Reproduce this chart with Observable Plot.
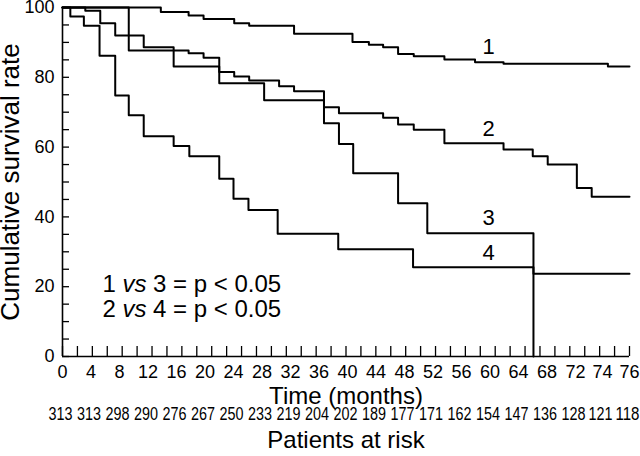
<!DOCTYPE html>
<html>
<head>
<meta charset="utf-8">
<script src="https://cdn.jsdelivr.net/npm/d3@7"></script>
<script src="https://cdn.jsdelivr.net/npm/@observablehq/plot@0.6"></script>
<style>
  html, body { margin: 0; padding: 0; background: #fff; }
  #chart svg { display: block; }
</style>
</head>
<body>
<div id="chart"></div>
<script>
// ---- data ----
const curve1Time = [0, 13.8, 17.7, 19.8, 24.1, 26.2, 32.5, 40.7, 43.0, 45.0, 47.1, 49.3, 53.6, 57.9, 61.9, 74.4, 76];
const curve1Surv = [100, 98.7, 97.7, 96.7, 95.5, 94.8, 92.5, 90.1, 89.3, 88.6, 86.7, 86.0, 85.1, 84.3, 83.9, 83.1, 83.1];

const curve2Time = [0, 9.3, 17.7, 19.8, 22.0, 24.1, 26.2, 30.4, 32.5, 36.7, 38.8, 45.0, 47.1, 49.3, 53.6, 61.9, 66.0, 68.1, 72.1, 73.2, 76];
const curve2Surv = [100, 87.7, 86.9, 85.6, 81.5, 80.2, 79.1, 77.4, 76.0, 71.4, 69.7, 68.4, 66.5, 65.0, 61.1, 59.3, 57.4, 55.0, 48.3, 45.8, 45.8];

const curve3Time = [0, 3.2, 5.3, 7.4, 11.4, 15.6, 22.0, 28.3, 36.7, 38.8, 40.8, 47.1, 51.2, 66.1];
const curve3Surv = [100, 99.1, 95.5, 92.0, 88.6, 83.1, 78.3, 73.4, 66.8, 60.9, 52.5, 43.9, 35.3, 0];

const curve4Time = [0, 1.1, 3.0, 5.2, 7.4, 9.3, 11.4, 15.6, 17.8, 22.0, 24.0, 26.1, 30.2, 38.7, 49.2, 66.1, 76];
const curve4Surv = [100, 97.4, 94.8, 86.2, 74.8, 69.1, 63.1, 60.3, 57.4, 50.9, 45.2, 42.0, 35.2, 30.7, 25.6, 23.7, 23.7];

const curveNames = ["1", "2", "3", "4"];
const xTickValues = [0, 4, 8, 12, 16, 20, 24, 28, 32, 36, 40, 44, 48, 52, 56, 60, 64, 68, 72, 74, 76];
const atRisk = [313, 313, 298, 290, 276, 267, 250, 233, 219, 204, 202, 189, 177, 171, 162, 154, 147, 136, 128, 121, 118];
const yTickValues = [0, 20, 40, 60, 80, 100];
const pNotes = ["1 vs 3 = p < 0.05", "2 vs 4 = p < 0.05"];

// ---- build table ----
const series = [
  [curve1Time, curve1Surv], [curve2Time, curve2Surv],
  [curve3Time, curve3Surv], [curve4Time, curve4Surv]
];
const rows = [];
series.forEach(([t, s], i) => t.forEach((v, j) => rows.push({curve: curveNames[i], time: v, surv: s[j]})));

// ---- scales ----
const xDomain = [0, 72, 76];
const xRange = [62, 575, 629];
const xs = d3.scaleLinear().domain(xDomain).range(xRange);
const nMinor = 38;
const minorX = d3.range(nMinor + 1).map(k => xs.invert(xRange[0] + k * (xRange[2] - xRange[0]) / nMinor));
const minorY = d3.range(0, 101, 5);

const font = "'Liberation Sans', Arial, Helvetica, sans-serif";

const plot = Plot.plot({
  width: 640,
  height: 456,
  marginLeft: 62,
  marginRight: 11,
  marginTop: 7,
  marginBottom: 100,
  style: {fontFamily: font, background: "#fff", color: "#000"},
  x: {type: "linear", domain: xDomain, range: xRange, label: null},
  y: {domain: [0, 100], label: null},
  marks: [
    // axis ticks (inward) and labels
    Plot.axisX({ticks: minorX, tickSize: -10, tickFormat: () => "", strokeWidth: 1.3}),
    Plot.axisX({ticks: xTickValues, tickSize: 0, tickPadding: 9, fontSize: 18, tickFormat: d => String(d)}),
    Plot.axisY({ticks: minorY, tickSize: -7, tickFormat: () => "", strokeWidth: 1.3}),
    Plot.axisY({ticks: yTickValues, tickSize: 0, tickPadding: 8, fontSize: 18, tickFormat: d => String(d)}),
    Plot.ruleX([0], {strokeWidth: 1.6}),
    Plot.ruleY([0], {strokeWidth: 1.6}),
    // survival curves
    Plot.line(rows, {x: "time", y: "surv", z: "curve", curve: "step-after", stroke: "#000", strokeWidth: 2}),
    // curve labels
    Plot.text(curveNames, {x: () => 59.8, y: (d, i) => [88.6, 65.3, 39.8, 29.8][i], text: d => d, fontSize: 22}),
    // p-value notes
    Plot.text(pNotes, {x: () => 5.6, y: (d, i) => [20.7, 13.5][i], text: d => d, textAnchor: "start", fontSize: 24}),
    // patients at risk row
    Plot.text(atRisk, {x: (d, i) => xTickValues[i], frameAnchor: "bottom", lineAnchor: "middle", dy: 58, dx: -2,
      text: d => String(d), fontSize: 18, className: "atrisk"}),
    // axis titles
    Plot.text(["Time (months)"], {frameAnchor: "bottom", lineAnchor: "middle", dy: 40, text: d => d, fontSize: 24}),
    Plot.text(["Patients at risk"], {frameAnchor: "bottom", lineAnchor: "middle", dy: 84, text: d => d, fontSize: 24}),
    Plot.text(["Cumulative survival rate"], {frameAnchor: "left", textAnchor: "middle", lineAnchor: "middle",
      dx: -52, rotate: -90, text: d => d, fontSize: 26})
  ]
});

// italicise "vs" in the p-value notes
const riskSet = new Set(atRisk.map(String));
d3.select(plot).selectAll("text").each(function () {
  const t = this.textContent;
  if (t.includes(" vs ")) {
    const parts = t.split("vs");
    const sel = d3.select(this);
    sel.text(null);
    sel.append("tspan").text(parts[0]);
    sel.append("tspan").attr("font-style", "italic").text("vs");
    sel.append("tspan").text(parts[1]);
  }
});
// condense the at-risk numbers (narrow typeface in the original)
d3.select(plot).selectAll("g.atrisk text, .atrisk text").each(function () {
  if (riskSet.has(this.textContent)) {
    this.setAttribute("textLength", "24");
    this.setAttribute("lengthAdjust", "spacingAndGlyphs");
  }
});

document.getElementById("chart").appendChild(plot);
</script>
</body>
</html>
